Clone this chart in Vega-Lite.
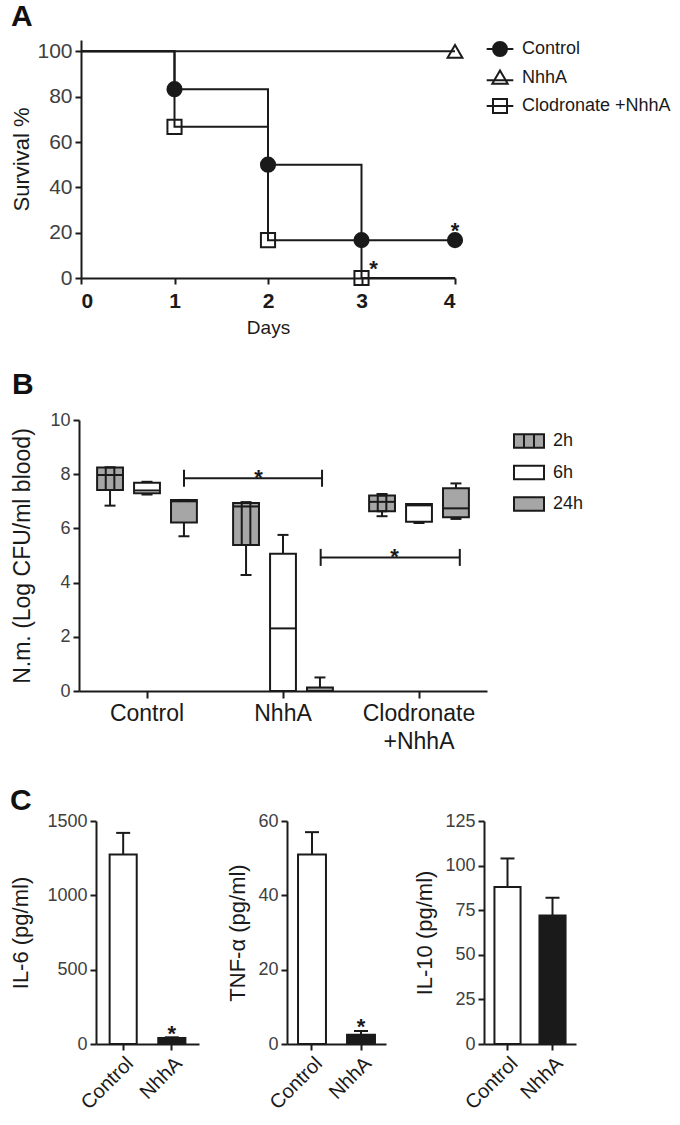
{
  "$schema": "https://vega.github.io/schema/vega-lite/v6.json",
  "background": "white",
  "padding": {"left": 9, "top": 2, "right": 5, "bottom": 5},
  "config": {
    "font": "Liberation Sans",
    "view": {"stroke": null},
    "axis": {"domainColor": "#1a1a1a", "domainWidth": 2, "tickColor": "#1a1a1a", "tickWidth": 2, "tickSize": 6, "labelFontSize": 18, "labelColor": "#404040", "titleFontSize": 22, "titleFontWeight": "normal", "titleColor": "#1a1a1a", "grid": false, "labelPadding": 3, "labelOverlap": false},
    "title": {"fontSize": 30, "fontWeight": "bold", "anchor": "start", "frame": "bounds", "color": "#111111"},
    "legend": {"padding": 0}
  },
  "resolve": {"scale": {"fill": "independent", "shape": "independent", "stroke": "independent"}, "legend": {"fill": "independent", "shape": "independent", "stroke": "independent"}},
  "concat": [
    {
      "width": 374,
      "height": 238,
      "title": {"text": "A", "offset": 8},
      "data": {"values": [
        {"group": "Control", "day": 1, "surv": 83.3}, {"group": "Control", "day": 2, "surv": 50}, {"group": "Control", "day": 3, "surv": 16.7}, {"group": "Control", "day": 4, "surv": 16.7},
        {"group": "NhhA", "day": 4, "surv": 100},
        {"group": "Clodronate +NhhA", "day": 1, "surv": 66.7}, {"group": "Clodronate +NhhA", "day": 2, "surv": 16.7}, {"group": "Clodronate +NhhA", "day": 3, "surv": 0}
      ]},
      "layer": [
        {
          "transform": [{"filter": "datum.group === 'Control'"}],
          "mark": {"type": "point", "shape": "circle", "fill": "#1a1a1a", "stroke": "#1a1a1a", "strokeWidth": 2, "opacity": 1, "size": 200},
          "encoding": {
            "x": {"field": "day", "type": "quantitative", "scale": {"domain": [0, 4], "nice": false, "range": [-15, 359]}, "axis": {"values": [0, 1, 2, 3, 4], "title": "Days", "titleFontSize": 19, "titlePadding": 7, "labelFontSize": 21, "labelFontWeight": "bold", "labelColor": "#1a1a1a", "labelPadding": 6, "format": "d"}},
            "y": {"field": "surv", "type": "quantitative", "scale": {"domain": [0, 105], "nice": false}, "axis": {"values": [0, 20, 40, 60, 80, 100], "title": "Survival %", "titlePadding": 3, "labelFontSize": 21, "offset": 15}}
          }
        },
        {
          "transform": [{"filter": "datum.group === 'NhhA'"}],
          "mark": {"type": "point", "shape": "triangle-up", "fill": "transparent", "stroke": "#1a1a1a", "strokeWidth": 2, "opacity": 1, "size": 220},
          "encoding": {"x": {"field": "day", "type": "quantitative"}, "y": {"field": "surv", "type": "quantitative"}}
        },
        {
          "transform": [{"filter": "datum.group === 'Clodronate +NhhA'"}],
          "mark": {"type": "point", "shape": "square", "fill": "transparent", "stroke": "#1a1a1a", "strokeWidth": 2, "opacity": 1, "size": 200},
          "encoding": {"x": {"field": "day", "type": "quantitative"}, "y": {"field": "surv", "type": "quantitative"}}
        },
        {
          "data": {"values": []},
          "mark": {"type": "point", "strokeWidth": 2, "opacity": 1},
          "encoding": {
            "shape": {"field": "group", "type": "nominal", "scale": {"domain": ["Control", "NhhA", "Clodronate +NhhA"], "range": ["M-1.9,0H1.9M-1,0A1,1 0 1,0 1,0A1,1 0 1,0 -1,0Z", "M-1.9,0.4H1.9M0,-1L1.1,0.9H-1.1Z", "M-1.9,0H1.9M-1,-1H1V1H-1Z"]},
              "legend": {"title": null, "orient": "right", "offset": 21, "labelFontSize": 18, "labelColor": "#1a1a1a", "symbolSize": 196, "symbolStrokeWidth": 2, "rowPadding": 6.5, "labelOffset": 13}},
            "fill": {"field": "group", "type": "nominal", "scale": {"domain": ["Control", "NhhA", "Clodronate +NhhA"], "range": ["#1a1a1a", "transparent", "transparent"]},
              "legend": {"title": null, "orient": "right", "offset": 21, "labelFontSize": 18, "labelColor": "#1a1a1a", "symbolSize": 196, "symbolStrokeWidth": 2, "rowPadding": 6.5, "labelOffset": 13}},
            "stroke": {"field": "group", "type": "nominal", "scale": {"domain": ["Control", "NhhA", "Clodronate +NhhA"], "range": ["#1a1a1a", "#1a1a1a", "#1a1a1a"]},
              "legend": {"title": null, "orient": "right", "offset": 21, "labelFontSize": 18, "labelColor": "#1a1a1a", "symbolSize": 196, "symbolStrokeWidth": 2, "rowPadding": 6.5, "labelOffset": 13}}
          }
        },
        {
          "data": {"values": [
            {"group": "Control", "day": 0, "surv": 100}, {"group": "Control", "day": 1, "surv": 83.3}, {"group": "Control", "day": 2, "surv": 50}, {"group": "Control", "day": 3, "surv": 16.7}, {"group": "Control", "day": 4, "surv": 16.7},
            {"group": "NhhA", "day": 0, "surv": 100}, {"group": "NhhA", "day": 4, "surv": 100},
            {"group": "Clodronate +NhhA", "day": 0, "surv": 100}, {"group": "Clodronate +NhhA", "day": 1, "surv": 66.7}, {"group": "Clodronate +NhhA", "day": 2, "surv": 16.7}, {"group": "Clodronate +NhhA", "day": 3, "surv": 0}, {"group": "Clodronate +NhhA", "day": 4, "surv": 0}
          ]},
          "mark": {"type": "line", "interpolate": "step-after", "color": "#1a1a1a", "strokeWidth": 2},
          "encoding": {
            "x": {"field": "day", "type": "quantitative"},
            "y": {"field": "surv", "type": "quantitative"},
            "detail": {"field": "group"}
          }
        },
        {
          "data": {"values": [{"day": 4, "surv": 17.6, "t": "*"}, {"day": 3.13, "surv": 0.9, "t": "*"}]},
          "mark": {"type": "text", "fontSize": 22, "fontWeight": "bold", "baseline": "alphabetic", "color": "#1a1a1a"},
          "encoding": {"x": {"field": "day", "type": "quantitative"}, "y": {"field": "surv", "type": "quantitative"}, "text": {"field": "t"}}
        }
      ]
    },
    {
      "width": 408,
      "height": 271,
      "title": {"text": "B", "offset": 11},
      "resolve": {"scale": {"x": "independent"}},
      "layer": [
        {
          "data": {"values": [
            {"group": "Control", "time": "2h", "min": 6.84, "q1": 7.42, "median": 7.97, "q3": 8.25, "max": 8.25},
            {"group": "Control", "time": "6h", "min": 7.25, "q1": 7.3, "median": 7.4, "q3": 7.68, "max": 7.72},
            {"group": "Control", "time": "24h", "min": 5.71, "q1": 6.22, "median": 7.0, "q3": 7.05, "max": 7.05},
            {"group": "NhhA", "time": "2h", "min": 4.28, "q1": 5.39, "median": 6.81, "q3": 6.94, "max": 6.97},
            {"group": "NhhA", "time": "6h", "min": 0, "q1": 0, "median": 2.31, "q3": 5.06, "max": 5.76},
            {"group": "NhhA", "time": "24h", "min": 0, "q1": 0, "median": 0, "q3": 0.13, "max": 0.5},
            {"group": "Clodronate +NhhA", "time": "2h", "min": 6.45, "q1": 6.63, "median": 6.98, "q3": 7.21, "max": 7.27},
            {"group": "Clodronate +NhhA", "time": "6h", "min": 6.2, "q1": 6.25, "median": 6.85, "q3": 6.9, "max": 6.9},
            {"group": "Clodronate +NhhA", "time": "24h", "min": 6.35, "q1": 6.41, "median": 6.74, "q3": 7.48, "max": 7.66}
          ]},
          "encoding": {
            "x": {"field": "group", "type": "nominal", "sort": ["Control", "NhhA", "Clodronate +NhhA"], "scale": {"paddingInner": 0, "paddingOuter": 0, "range": [-17, 391]},
              "axis": {"title": null, "labelAngle": 0, "labelFontSize": 23, "labelColor": "#1a1a1a", "tickSize": 7, "labelPadding": 4, "labelLineHeight": 28, "labelBaseline": "top",
                "labelExpr": "datum.value === 'Clodronate +NhhA' ? ['Clodronate', '+NhhA'] : datum.label"}},
            "xOffset": {"field": "time", "type": "nominal", "sort": ["2h", "6h", "24h"], "scale": {"domain": ["2h", "6h", "24h"], "paddingInner": 0.3, "paddingOuter": 0.49}}
          },
          "layer": [
            {
              "mark": {"type": "rule", "color": "#1a1a1a", "strokeWidth": 2},
              "encoding": {
                "y": {"field": "min", "type": "quantitative", "scale": {"domain": [0, 10], "nice": false}, "axis": {"values": [0, 2, 4, 6, 8, 10], "title": "N.m. (Log CFU/ml blood)", "titleFontSize": 23, "titlePadding": 15, "offset": 17}},
                "y2": {"field": "max"}
              }
            },
            {"mark": {"type": "tick", "color": "#1a1a1a", "opacity": 1, "thickness": 2, "size": 11}, "encoding": {"y": {"field": "min", "type": "quantitative"}}},
            {"mark": {"type": "tick", "color": "#1a1a1a", "opacity": 1, "thickness": 2, "size": 11}, "encoding": {"y": {"field": "max", "type": "quantitative"}}},
            {
              "transform": [{"filter": "datum.time !== '6h'"}],
              "mark": {"type": "bar", "fill": "#a6a6a6", "stroke": "#1a1a1a", "strokeWidth": 2, "opacity": 1},
              "encoding": {"y": {"field": "q1", "type": "quantitative"}, "y2": {"field": "q3"}}
            },
            {
              "transform": [{"filter": "datum.time === '6h'"}],
              "mark": {"type": "bar", "fill": "#ffffff", "stroke": "#1a1a1a", "strokeWidth": 2, "opacity": 1},
              "encoding": {"y": {"field": "q1", "type": "quantitative"}, "y2": {"field": "q3"}}
            },
            {
              "transform": [{"filter": "datum.time === '2h'"}],
              "mark": {"type": "bar", "width": 8.6, "fill": "transparent", "stroke": "#1a1a1a", "strokeWidth": 2},
              "encoding": {"y": {"field": "q1", "type": "quantitative"}, "y2": {"field": "q3"}}
            },
            {"mark": {"type": "tick", "color": "#1a1a1a", "opacity": 1, "thickness": 2, "size": 26}, "encoding": {"y": {"field": "median", "type": "quantitative"}}}
          ]
        },
        {
          "data": {"values": []},
          "mark": {"type": "point", "strokeWidth": 2, "opacity": 1},
          "encoding": {
            "shape": {"field": "time", "type": "nominal", "scale": {"domain": ["2h", "6h", "24h"], "range": ["M-2,-0.9H2V0.9H-2ZM-0.667,-0.9V0.9M0.667,-0.9V0.9", "M-2,-0.9H2V0.9H-2Z", "M-2,-0.9H2V0.9H-2Z"]},
              "legend": {"title": null, "orient": "none", "legendX": 424, "legendY": 12, "labelFontSize": 18, "labelColor": "#1a1a1a", "symbolSize": 225, "symbolStrokeWidth": 2, "rowPadding": 9.5, "labelOffset": 15}},
            "fill": {"field": "time", "type": "nominal", "scale": {"domain": ["2h", "6h", "24h"], "range": ["#a6a6a6", "#ffffff", "#a6a6a6"]},
              "legend": {"title": null, "orient": "none", "legendX": 424, "legendY": 12, "labelFontSize": 18, "labelColor": "#1a1a1a", "symbolSize": 225, "symbolStrokeWidth": 2, "rowPadding": 9.5, "labelOffset": 15}},
            "stroke": {"field": "time", "type": "nominal", "scale": {"domain": ["2h", "6h", "24h"], "range": ["#1a1a1a", "#1a1a1a", "#1a1a1a"]},
              "legend": {"title": null, "orient": "none", "legendX": 424, "legendY": 12, "labelFontSize": 18, "labelColor": "#1a1a1a", "symbolSize": 225, "symbolStrokeWidth": 2, "rowPadding": 9.5, "labelOffset": 15}}
          }
        },
        {
          "data": {"values": [
            {"x1": 0.772, "x2": 1.787, "y": 7.85, "sx": 1.32, "sy": 7.6, "t": "*"},
            {"x1": 1.777, "x2": 2.8, "y": 4.93, "sx": 2.32, "sy": 4.69, "t": "*"}
          ]},
          "layer": [
            {"mark": {"type": "rule", "color": "#1a1a1a", "strokeWidth": 2}, "encoding": {"x": {"field": "x1", "type": "quantitative", "scale": {"domain": [0, 3], "nice": false, "zero": false, "range": [-17, 391]}, "axis": null}, "x2": {"field": "x2"}, "y": {"field": "y", "type": "quantitative"}}},
            {"mark": {"type": "tick", "orient": "vertical", "color": "#1a1a1a", "opacity": 1, "thickness": 2, "size": 17}, "encoding": {"x": {"field": "x1", "type": "quantitative"}, "y": {"field": "y", "type": "quantitative"}}},
            {"mark": {"type": "tick", "orient": "vertical", "color": "#1a1a1a", "opacity": 1, "thickness": 2, "size": 17}, "encoding": {"x": {"field": "x2", "type": "quantitative"}, "y": {"field": "y", "type": "quantitative"}}},
            {"mark": {"type": "text", "fontSize": 22, "fontWeight": "bold", "baseline": "alphabetic", "color": "#1a1a1a"}, "encoding": {"x": {"field": "sx", "type": "quantitative"}, "y": {"field": "sy", "type": "quantitative"}, "text": {"field": "t"}}}
          ]
        }
      ]
    },
    {
      "title": {"text": "C", "offset": -4},
      "spacing": 27,
      "hconcat": [
        {
          "width": 103, "height": 223,
          "data": {"values": [{"group": "Control", "mean": 1275, "upper": 1420, "star": ""}, {"group": "NhhA", "mean": 40, "upper": 45, "star": "*"}]},
          "encoding": {"x": {"field": "group", "type": "nominal", "sort": ["Control", "NhhA"], "scale": {"paddingInner": 0.443, "paddingOuter": 0.28}, "axis": {"title": null, "labelAngle": -45, "labelFontSize": 20, "labelColor": "#1a1a1a"}}},
          "layer": [
            {"mark": {"type": "rule", "color": "#1a1a1a", "strokeWidth": 2}, "encoding": {"y": {"field": "mean", "type": "quantitative", "scale": {"domain": [0, 1500], "nice": false}, "axis": {"values": [0, 250, 500, 750, 1000, 1250, 1500], "format": "d", "labelOverlap": false, "labelSeparation": 0, "title": "IL-6 (pg/ml)", "titlePadding": 14}}, "y2": {"field": "upper"}}},
            {"mark": {"type": "tick", "color": "#1a1a1a", "opacity": 1, "thickness": 2, "size": 14}, "encoding": {"y": {"field": "upper", "type": "quantitative"}}},
            {"mark": {"type": "bar", "stroke": "#1a1a1a", "strokeWidth": 2, "opacity": 1}, "encoding": {"y": {"field": "mean", "type": "quantitative"}, "fill": {"field": "group", "type": "nominal", "scale": {"domain": ["Control", "NhhA"], "range": ["#ffffff", "#1a1a1a"]}, "legend": null}}},
            {"mark": {"type": "text", "fontSize": 22, "fontWeight": "bold", "baseline": "alphabetic", "dy": 3.5, "color": "#1a1a1a"}, "encoding": {"y": {"field": "upper", "type": "quantitative"}, "text": {"field": "star"}}}
          ]
        },
        {
          "width": 99, "height": 223,
          "data": {"values": [{"group": "Control", "mean": 51, "upper": 57, "star": ""}, {"group": "NhhA", "mean": 2.5, "upper": 3.5, "star": "*"}]},
          "encoding": {"x": {"field": "group", "type": "nominal", "sort": ["Control", "NhhA"], "scale": {"paddingInner": 0.43, "paddingOuter": 0.225}, "axis": {"title": null, "labelAngle": -45, "labelFontSize": 20, "labelColor": "#1a1a1a"}}},
          "layer": [
            {"mark": {"type": "rule", "color": "#1a1a1a", "strokeWidth": 2}, "encoding": {"y": {"field": "mean", "type": "quantitative", "scale": {"domain": [0, 60], "nice": false}, "axis": {"values": [0, 20, 40, 60], "title": "TNF-α (pg/ml)", "titlePadding": 8}}, "y2": {"field": "upper"}}},
            {"mark": {"type": "tick", "color": "#1a1a1a", "opacity": 1, "thickness": 2, "size": 14}, "encoding": {"y": {"field": "upper", "type": "quantitative"}}},
            {"mark": {"type": "bar", "stroke": "#1a1a1a", "strokeWidth": 2, "opacity": 1}, "encoding": {"y": {"field": "mean", "type": "quantitative"}, "fill": {"field": "group", "type": "nominal", "scale": {"domain": ["Control", "NhhA"], "range": ["#ffffff", "#1a1a1a"]}, "legend": null}}},
            {"mark": {"type": "text", "fontSize": 22, "fontWeight": "bold", "baseline": "alphabetic", "dy": 3.5, "color": "#1a1a1a"}, "encoding": {"y": {"field": "upper", "type": "quantitative"}, "text": {"field": "star"}}}
          ]
        },
        {
          "width": 92, "height": 223,
          "data": {"values": [{"group": "Control", "mean": 88, "upper": 104}, {"group": "NhhA", "mean": 72, "upper": 82}]},
          "encoding": {"x": {"field": "group", "type": "nominal", "sort": ["Control", "NhhA"], "scale": {"paddingInner": 0.42, "paddingOuter": 0.232}, "axis": {"title": null, "labelAngle": -45, "labelFontSize": 20, "labelColor": "#1a1a1a"}}},
          "layer": [
            {"mark": {"type": "rule", "color": "#1a1a1a", "strokeWidth": 2}, "encoding": {"y": {"field": "mean", "type": "quantitative", "scale": {"domain": [0, 125], "nice": false}, "axis": {"values": [0, 25, 50, 75, 100, 125], "title": "IL-10 (pg/ml)", "titlePadding": 8}}, "y2": {"field": "upper"}}},
            {"mark": {"type": "tick", "color": "#1a1a1a", "opacity": 1, "thickness": 2, "size": 14}, "encoding": {"y": {"field": "upper", "type": "quantitative"}}},
            {"mark": {"type": "bar", "stroke": "#1a1a1a", "strokeWidth": 2, "opacity": 1}, "encoding": {"y": {"field": "mean", "type": "quantitative"}, "fill": {"field": "group", "type": "nominal", "scale": {"domain": ["Control", "NhhA"], "range": ["#ffffff", "#1a1a1a"]}, "legend": null}}}
          ]
        }
      ]
    }
  ],
  "columns": 1,
  "align": "none",
  "spacing": 33
}
